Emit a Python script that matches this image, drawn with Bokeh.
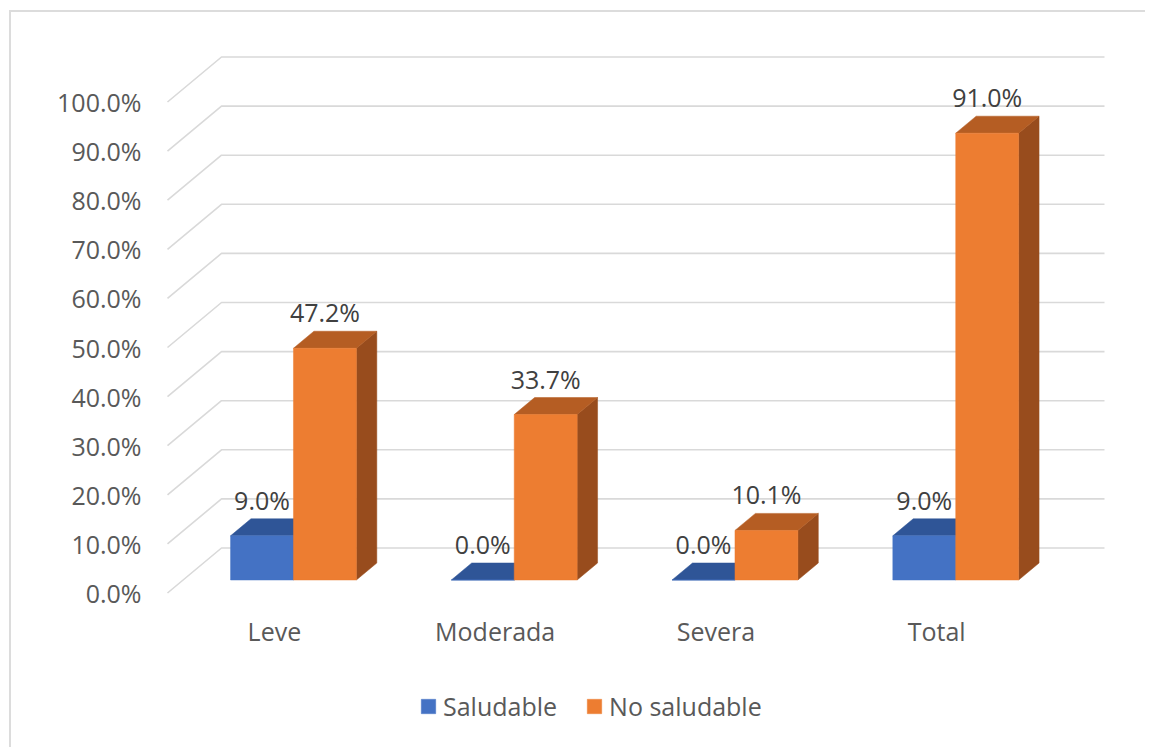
import numpy as np
from bokeh.plotting import figure
from bokeh.models import (FixedTicker, NumeralTickFormatter, Range1d, Legend,
                          LegendItem)
from bokeh.core.properties import value
from bokeh.embed import file_html
from bokeh.resources import INLINE

# ---------------- data ----------------
categories = ["Leve", "Moderada", "Severa", "Total"]
saludable = [0.090, 0.000, 0.000, 0.090]
no_saludable = [0.472, 0.337, 0.101, 0.910]
series_names = ["Saludable", "No saludable"]
y_ticks = [0.0, 0.1, 0.2, 0.3, 0.4, 0.5, 0.6, 0.7, 0.8, 0.9, 1.0]

# ---------------- style / geometry ----------------
FONT = "Open Sans"
FS = "25px"
AXIS_COL = "#595959"
LABEL_COL = "#404040"
GRID_COL = "#d9d9d9"
FRONT = ["#4472C4", "#ED7D31"]
TOP = ["#2F5597", "#B55D23"]
SIDE = ["#27477F", "#984C1D"]

PX_X = 220.75            # px per category unit
PX_Y = 491.0             # px per 1.0 (100%)
DX = 54 / PX_X           # full depth, x
DY = 45 / PX_Y           # full depth, y
T0, T1 = 0.289, 0.667    # bar front / back depth
GROUP_W = 0.57
BAR_W = GROUP_W / 2
N = len(categories)


def proj(x, y, t):
    return x + t * DX, y + t * DY


p = figure(width=1136, height=737,
           x_range=Range1d(-5 / PX_X, (1110 - 167) / PX_X),
           y_range=Range1d(-(749 - 592.5) / PX_Y, (592.5 - 40) / PX_Y),
           output_backend="svg", toolbar_location=None,
           min_border_left=151, min_border_right=37,
           min_border_top=28, min_border_bottom=0,
           background_fill_color="white", border_fill_color="white",
           outline_line_color=None)
p.styles = {"border-left": "2px solid #dcdcdc", "border-top": "2px solid #dcdcdc",
            "margin-left": "9px", "margin-top": "10px"}

p.xgrid.visible = False
p.ygrid.visible = False

# perspective gridlines
gx, gy = [], []
for v in y_ticks:
    a = proj(0, v, 0)
    b = proj(0, v, 1)
    c = proj(N, v, 1)
    gx.append([a[0], b[0], c[0]])
    gy.append([a[1], b[1], c[1]])
p.multi_line(gx, gy, line_color=GRID_COL, line_width=1.6)

# 3D bars
front_renderers = []
lx, ly, lt = [], [], []
for k, vals in enumerate([saludable, no_saludable]):
    fx, fy, tx, ty, sx, sy = [], [], [], [], [], []
    for i, v in enumerate(vals):
        x0 = i + 0.5 - GROUP_W / 2 + k * BAR_W
        x1 = x0 + BAR_W
        pts = [proj(x0, 0, T0), proj(x1, 0, T0), proj(x1, v, T0), proj(x0, v, T0)]
        fx.append([q[0] for q in pts]); fy.append([q[1] for q in pts])
        pts = [proj(x0, v, T0), proj(x1, v, T0), proj(x1, v, T1), proj(x0, v, T1)]
        tx.append([q[0] for q in pts]); ty.append([q[1] for q in pts])
        pts = [proj(x1, 0, T0), proj(x1, 0, T1), proj(x1, v, T1), proj(x1, v, T0)]
        sx.append([q[0] for q in pts]); sy.append([q[1] for q in pts])
        cx, cy = proj((x0 + x1) / 2, v, T0)
        lx.append(cx); ly.append(cy + 36 / PX_Y); lt.append(f"{v * 100:.1f}%")
    p.patches(sx, sy, fill_color=SIDE[k], line_color=SIDE[k], line_width=0.5)
    p.patches(tx, ty, fill_color=TOP[k], line_color=TOP[k], line_width=0.5)
    r = p.patches(fx, fy, fill_color=FRONT[k], line_color=FRONT[k], line_width=0.5)
    front_renderers.append(r)

p.text(x=lx, y=ly, text=lt, text_align="center", text_baseline="middle",
       text_font=value(FONT), text_font_size=FS, text_color=LABEL_COL)

# axes
ya = p.yaxis[0]
ya.ticker = FixedTicker(ticks=y_ticks)
ya.formatter = NumeralTickFormatter(format="0.0%")
ya.axis_line_color = None
ya.major_tick_line_color = None
ya.minor_tick_line_color = None
ya.major_label_standoff = 15
ya.major_label_text_font = FONT
ya.major_label_text_font_size = FS
ya.major_label_text_color = AXIS_COL
ya.bounds = (0, 1)

xa = p.xaxis[0]
xticks = [i + 0.484375 for i in range(N)]
xa.ticker = FixedTicker(ticks=xticks)
xa.major_label_overrides = {t: c for t, c in zip(xticks, categories)}
xa.fixed_location = 0
xa.axis_line_color = None
xa.major_tick_line_color = None
xa.minor_tick_line_color = None
xa.major_label_standoff = 15
xa.major_label_text_font = FONT
xa.major_label_text_font_size = FS
xa.major_label_text_color = AXIS_COL

legend = Legend(items=[LegendItem(label=series_names[k], renderers=[front_renderers[k]])
                       for k in range(2)],
                orientation="horizontal", location=(257, 26),
                glyph_width=18, glyph_height=18, label_height=16,
                label_standoff=6, spacing=28, padding=0, margin=0,
                border_line_color=None, background_fill_alpha=0,
                label_text_font=FONT, label_text_font_size=FS,
                label_text_color=AXIS_COL)
p.add_layout(legend)

open("out.html", "w").write(file_html(p, INLINE))
